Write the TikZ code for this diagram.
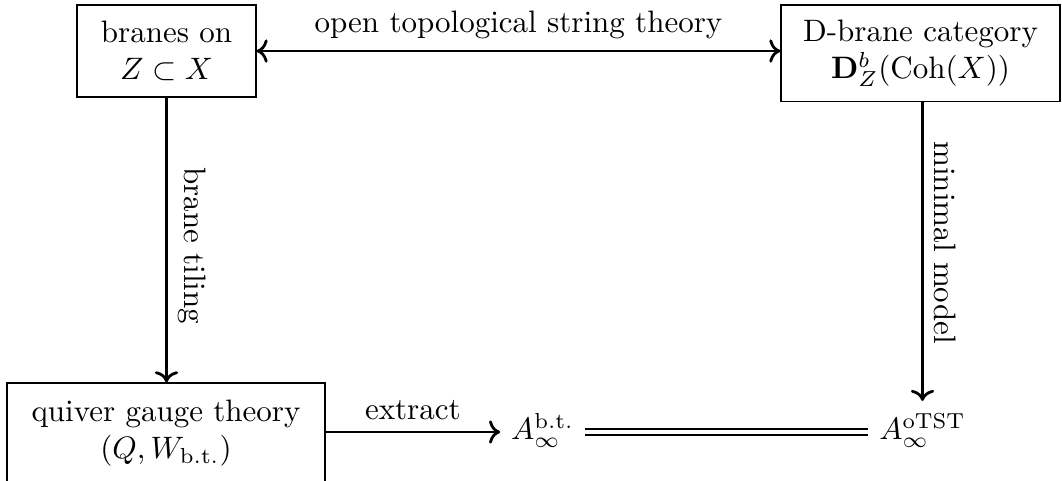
\documentclass[tikz,border=0pt]{standalone}
\usepackage{amsmath,amssymb}
\usetikzlibrary{arrows.meta}
\tikzset{
  box/.style={draw, line width=0.4pt, align=center, inner sep=0pt},
  conn/.style={line width=0.9pt, -{Computer Modern Rightarrow[]}},
  biconn/.style={line width=0.9pt, {Computer Modern Rightarrow[]}-{Computer Modern Rightarrow[]}},
  eqline/.style={line width=0.4pt, double, double distance=1.5pt},
  alg/.style={inner sep=3.33pt, text height=9pt, text depth=4pt},
  lbl/.style={font=\normalsize}
}
\begin{document}
\begin{tikzpicture}[x=0.3226pt, y=-0.3226pt]
\useasboundingbox (0,0) rectangle (1062,480);
\clip (0,0) rectangle (1062,480);
\node[box, minimum width=57.7pt, minimum height=29.7pt] (b1) at (166.5,51) {branes on\\ $Z\subset X$};
\node[box, minimum width=90pt, minimum height=31.2pt] (b2) at (920.5,53.3) {D-brane category\\ $\mathbf{D}^b_Z(\mathrm{Coh}(X))$};
\node[box, minimum width=102.6pt, minimum height=32.3pt] (b3) at (166,433) {quiver gauge theory\\ $(Q,W_{\mathrm{b.t.}})$};
\node[alg] (bt) at (542.5,432) {$A_\infty^{\mathrm{b.t.}}$};
\node[alg] (ot) at (922.5,432) {$A_\infty^{\mathrm{oTST}}$};
\draw[biconn] (b1.east) -- (b1.east -| b2.west) node[midway, above, lbl] {open topological string theory};
\draw[conn] (b1.south) -- (b1.south |- b3.north) node[pos=0.52, sloped, above, lbl] {brane tiling};
\draw[conn] (ot.north |- b2.south) -- (ot.north) node[pos=0.47, sloped, above, lbl] {minimal model};
\draw[conn] (b3.east |- bt.west) -- (bt.west) node[midway, above, lbl] {extract};
\draw[eqline] (bt.east) -- (ot.west);
\end{tikzpicture}
\end{document}
